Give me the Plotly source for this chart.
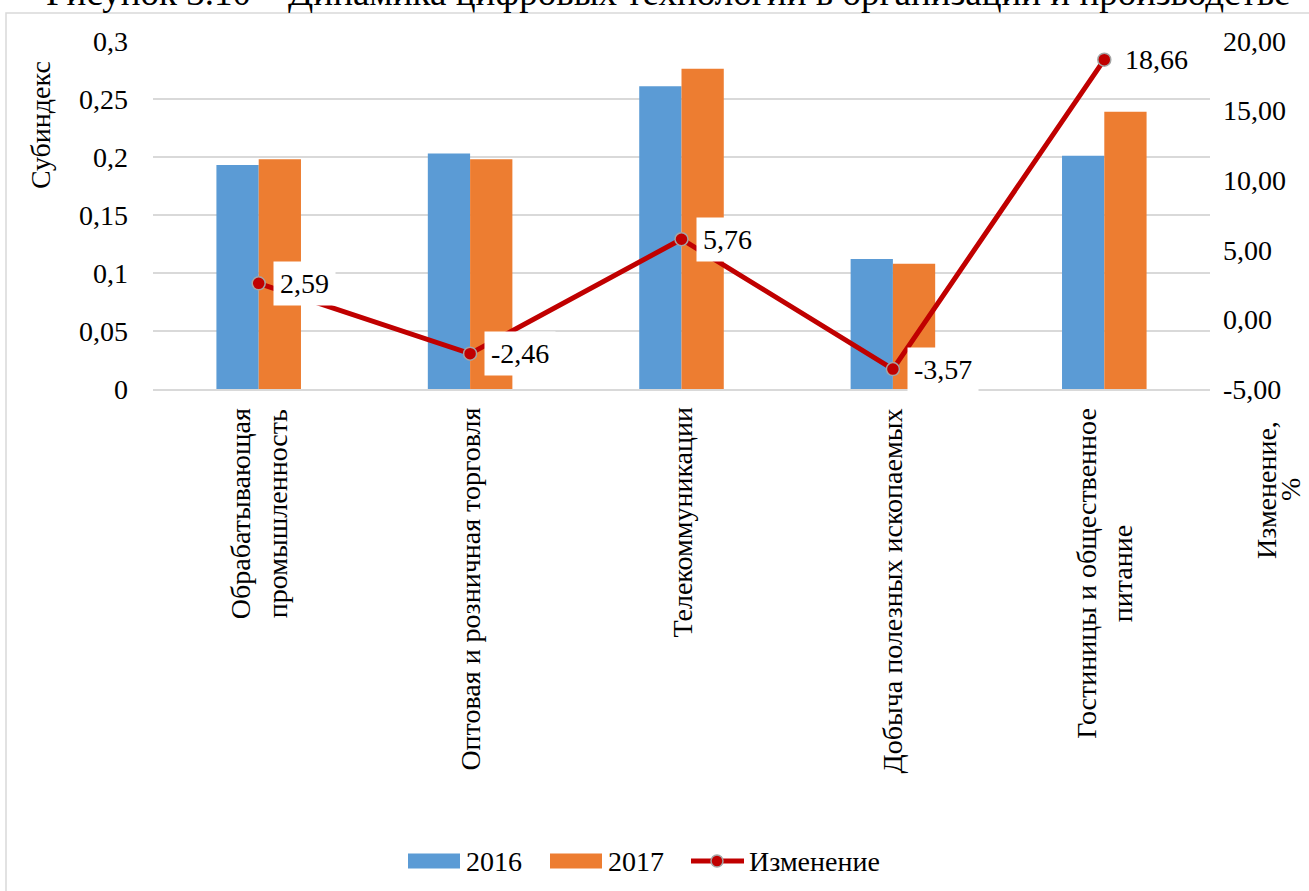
import plotly.graph_objects as go

# Sectors and sub-index values for two years, plus change in percent
categories = [
    "Обрабатывающая<br>промышленность",
    "Оптовая и розничная торговля",
    "Телекоммуникации",
    "Добыча полезных ископаемых",
    "Гостиницы и общественное<br>питание",
]
values_2016 = [0.193, 0.203, 0.261, 0.112, 0.201]
values_2017 = [0.198, 0.198, 0.276, 0.108, 0.239]
change_pct = [2.59, -2.46, 5.76, -3.57, 18.66]

left_ticks = [0, 0.05, 0.1, 0.15, 0.2, 0.25, 0.3]
left_labels = ["0", "0,05", "0,1", "0,15", "0,2", "0,25", "0,3"]
right_ticks = [-5, 0, 5, 10, 15, 20]
right_labels = ["-5,00", "0,00", "5,00", "10,00", "15,00", "20,00"]

series_names = ["2016", "2017", "Изменение"]
title_text = "Рисунок 3.10 – Динамика цифровых технологий в организации и производстве"

FONT = "Liberation Serif, Times New Roman, serif"
FS = 28
BLUE = "#5B9BD5"
ORANGE = "#ED7D31"
RED = "#C00000"
GRID = "#D9D9D9"

W, H = 1309, 891
L, R, T, B = 153, 99, 41, 502
pw, ph = W - L - R, H - T - B


def px(x):
    return (x - L) / pw


def py(y):
    return (H - B - y) / ph


def txt(size=FS):
    return dict(family=FONT, size=size, color="black")


fig = go.Figure()
fig.add_trace(go.Bar(name=series_names[0], x=categories, y=values_2016,
                     marker=dict(color=BLUE, line=dict(width=0)), yaxis="y"))
fig.add_trace(go.Bar(name=series_names[1], x=categories, y=values_2017,
                     marker=dict(color=ORANGE, line=dict(width=0)), yaxis="y"))
fig.add_trace(go.Scatter(name=series_names[2], x=categories, y=change_pct, yaxis="y2",
                         mode="lines+markers",
                         line=dict(color=RED, width=5),
                         marker=dict(color=RED, size=13,
                                     line=dict(color="#A5A5A5", width=1.5))))

annotations = []
# value labels for the change line
for c, v in zip(categories, change_pct):
    annotations.append(dict(
        x=c, y=v, xref="x", yref="y2", xanchor="left", yanchor="middle",
        xshift=14, text=f"{v:.2f}".replace(".", ","), showarrow=False,
        bgcolor="white", borderpad=6, font=txt()))

# category labels, rotated and centred line by line
for c in categories:
    annotations.append(dict(
        x=c, y=0, xref="x", yref="y", yanchor="top", xanchor="center",
        yshift=-17, text=c, textangle=-90, align="center", showarrow=False,
        font=txt()))

# axis titles
annotations.append(dict(x=px(40), y=py(125), xref="paper", yref="paper",
                        xanchor="center", yanchor="middle",
                        text="Субиндекс", textangle=-90, showarrow=False,
                        font=txt()))
# right-hand title, two stacked rotated lines
annotations.append(dict(x=px(1266), y=py(490), xref="paper", yref="paper",
                        xanchor="center", yanchor="middle",
                        text="Изменение,", textangle=-90, showarrow=False,
                        font=txt()))
annotations.append(dict(x=px(1290), y=py(490), xref="paper", yref="paper",
                        xanchor="center", yanchor="middle",
                        text="%", textangle=-90, showarrow=False,
                        font=txt()))
# figure caption along the top edge
annotations.append(dict(x=px(668), y=py(-7), xref="paper", yref="paper",
                        xanchor="center", yanchor="middle",
                        text=title_text, showarrow=False, font=txt(37)))

# legend row at the bottom
shapes = [dict(type="rect", xref="paper", yref="paper",
               x0=px(6), x1=px(1320), y0=py(13), y1=py(900),
               line=dict(color=GRID, width=1.5), layer="below")]
leg_y = 861
for x0, color, name in [(408, BLUE, series_names[0]), (550, ORANGE, series_names[1])]:
    shapes.append(dict(type="rect", xref="paper", yref="paper",
                       x0=px(x0), x1=px(x0 + 52), y0=py(leg_y - 7.5), y1=py(leg_y + 7.5),
                       fillcolor=color, line=dict(width=0)))
    annotations.append(dict(x=px(x0 + 56), y=py(leg_y), xref="paper", yref="paper",
                            xanchor="left", yanchor="middle", text=name,
                            showarrow=False, font=txt()))
shapes.append(dict(type="line", xref="paper", yref="paper",
                   x0=px(691), x1=px(744), y0=py(leg_y), y1=py(leg_y),
                   line=dict(color=RED, width=5)))
shapes.append(dict(type="circle", xref="paper", yref="paper",
                   x0=px(711), x1=px(723), y0=py(leg_y - 6), y1=py(leg_y + 6),
                   fillcolor=RED, line=dict(color="#A5A5A5", width=1.5)))
annotations.append(dict(x=px(747), y=py(leg_y), xref="paper", yref="paper",
                        xanchor="left", yanchor="middle", text=series_names[2],
                        showarrow=False, font=txt()))

fig.update_layout(
    width=W, height=H,
    margin=dict(l=L, r=R, t=T, b=B, autoexpand=False),
    paper_bgcolor="white", plot_bgcolor="white",
    barmode="group", bargap=0.6, bargroupgap=0,
    font=txt(),
    showlegend=False,
    xaxis=dict(showticklabels=False, showline=True, linecolor=GRID, linewidth=1.5,
               showgrid=False, ticks=""),
    yaxis=dict(range=[0, 0.3], tickvals=left_ticks, ticktext=left_labels,
               showgrid=True, gridcolor=GRID, gridwidth=1.5, zeroline=False,
               ticks="", ticklabelstandoff=24, showline=False, tickfont=txt()),
    yaxis2=dict(range=[-5, 20], tickvals=right_ticks, ticktext=right_labels,
                overlaying="y", side="right", showgrid=False, zeroline=False,
                ticks="", ticklabelstandoff=12, showline=False, tickfont=txt()),
    annotations=annotations,
    shapes=shapes,
)

fig.write_html("out.html")
